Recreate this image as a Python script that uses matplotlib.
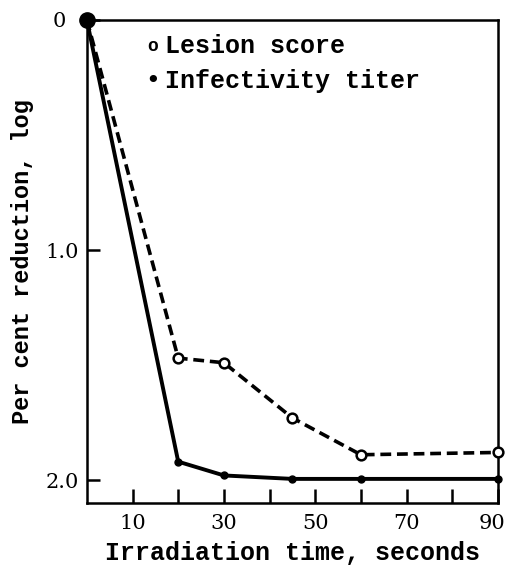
import matplotlib.pyplot as plt
import matplotlib.transforms as mtransforms
import numpy as np

plt.rcParams['font.family'] = ['Liberation Mono', 'DejaVu Sans Mono']

# irradiation time, seconds
lesion_t = [0, 20, 30, 45, 60, 90]
lesion_score = [0.0, 1.47, 1.49, 1.73, 1.89, 1.88]

titer_t = [0, 20, 30, 45, 60, 90]
titer = [0.0, 1.92, 1.98, 1.995, 1.995, 1.995]

xticks = [10, 30, 50, 70, 90]
yticks = [0, 1.0, 2.0]
ytick_labels = ['0', '1.0', '2.0']

fig = plt.figure(figsize=(5.05, 5.71), dpi=100)
ax = fig.add_axes([0.172, 0.119, 0.814, 0.846])

ax.plot(lesion_t, lesion_score, color='black', lw=2.6, ls=(0, (3, 1.6)),
        marker='o', markersize=7, markerfacecolor='white', markeredgewidth=1.8,
        zorder=3, clip_on=False)
ax.plot(titer_t, titer, color='black', lw=2.8, marker='o', markersize=5,
        zorder=4, clip_on=False)
ax.plot([0], [0], 'o', color='black', markersize=11, zorder=5, clip_on=False)

ax.set_xlim(0, 90)
ax.set_ylim(2.1, 0)
ax.set_xticks(np.arange(10, 91, 10))
ax.set_xticklabels([str(v) if v in xticks else '' for v in range(10, 91, 10)],
                   family='DejaVu Serif')
ax.set_yticks(yticks)
ax.set_yticklabels(ytick_labels, family='DejaVu Serif')
ax.tick_params(axis='x', direction='in', length=10, width=1.8, labelsize=15, pad=8)
ax.tick_params(axis='y', direction='in', length=9, width=1.8, labelsize=15, pad=6)
for s in ax.spines.values():
    s.set_linewidth(1.8)

# last x label sits at the right edge, nudge it in a bit
lbl = ax.get_xticklabels()[-1]
lbl.set_transform(lbl.get_transform() + mtransforms.ScaledTranslation(-4 / 72, 0, fig.dpi_scale_trans))
# the "0" label sits clear of the big start dot
lbl0 = ax.get_yticklabels()[0]
lbl0.set_transform(lbl0.get_transform() + mtransforms.ScaledTranslation(-9 / 72, 0, fig.dpi_scale_trans))

ax.set_xlabel('Irradiation time, seconds', fontsize=18, fontweight='bold', labelpad=6)
ax.set_ylabel('Per cent reduction, log', fontsize=17, fontweight='bold', labelpad=8)

ax.text(0.16, 0.945, 'o', transform=ax.transAxes, fontsize=13, fontweight='bold',
        va='center', ha='center')
ax.text(0.19, 0.947, 'Lesion score', transform=ax.transAxes, fontsize=18,
        fontweight='bold', va='center')
ax.text(0.16, 0.873, '\u2022', transform=ax.transAxes, fontsize=18,
        va='center', ha='center', family='DejaVu Sans')
ax.text(0.19, 0.873, 'Infectivity titer', transform=ax.transAxes, fontsize=18,
        fontweight='bold', va='center')

fig.savefig('out.png', dpi=100)
